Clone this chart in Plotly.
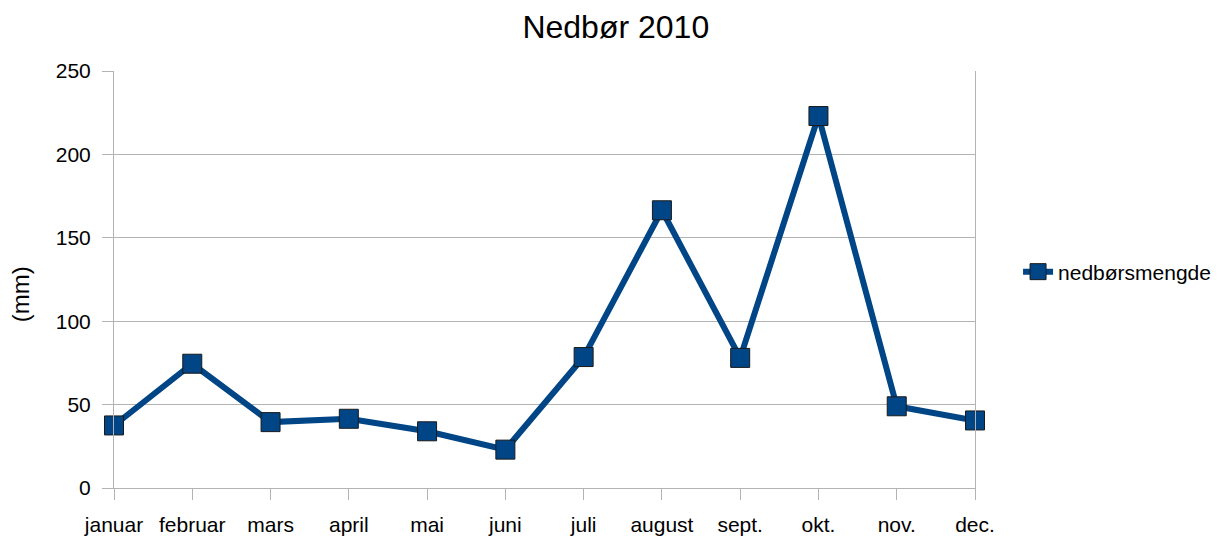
import plotly.graph_objects as go

# Monthly precipitation 2010
months = ["januar", "februar", "mars", "april", "mai", "juni",
          "juli", "august", "sept.", "okt.", "nov.", "dec."]
nedbor_mm = [37.5, 74.5, 39.5, 41.5, 34, 23, 78.5, 166.5, 78, 223, 49, 40.5]
y_ticks = [0, 50, 100, 150, 200, 250]

LINE_BLUE = "#004586"
GRID = "#b3b3b3"
FONT = "Liberation Sans, Arial, sans-serif"

fig = go.Figure()
fig.add_trace(go.Scatter(
    x=months,
    y=nedbor_mm,
    mode="lines+markers",
    name="nedbørsmengde",
    cliponaxis=False,
    line=dict(color=LINE_BLUE, width=6),
    marker=dict(symbol="square", size=19, color=LINE_BLUE,
                line=dict(color="#1a1a1a", width=1)),
))

fig.update_layout(
    width=1217,
    height=536,
    autosize=False,
    margin=dict(l=114, r=242, t=71, b=48, autoexpand=False),
    paper_bgcolor="white",
    plot_bgcolor="white",
    font=dict(family=FONT, size=21, color="black"),
    title=dict(text="Nedbør 2010", x=0.506, xanchor="center",
               y=0.95, yanchor="middle",
               font=dict(family=FONT, size=32, color="black")),
    showlegend=True,
    legend=dict(x=1.05, y=0.518, xanchor="left", yanchor="middle",
                font=dict(family=FONT, size=21, color="black"),
                bgcolor="rgba(0,0,0,0)", itemwidth=30),
    xaxis=dict(
        type="category",
        range=[0, 11],
        automargin=False,
        showgrid=False,
        showline=True, linecolor=GRID, linewidth=1,
        ticks="outside", ticklen=11, tickcolor=GRID, tickwidth=1,
        ticklabelstandoff=7,
        tickfont=dict(family=FONT, size=21, color="black"),
        fixedrange=True,
    ),
    yaxis=dict(
        range=[0, 250],
        tickvals=y_ticks,
        automargin=False,
        showgrid=True, gridcolor=GRID, gridwidth=1,
        showline=True, linecolor=GRID, linewidth=1, mirror=True,
        zeroline=False,
        ticks="outside", ticklen=11, tickcolor=GRID, tickwidth=1,
        ticklabelstandoff=7,
        tickfont=dict(family=FONT, size=21, color="black"),
        fixedrange=True,
    ),
    annotations=[dict(
        text="(mm)", textangle=-90,
        xref="paper", yref="paper", x=-0.109, y=0.465,
        xanchor="center", yanchor="middle", showarrow=False,
        font=dict(family=FONT, size=24, color="black"),
    )],
)

fig.write_html("out.html")
